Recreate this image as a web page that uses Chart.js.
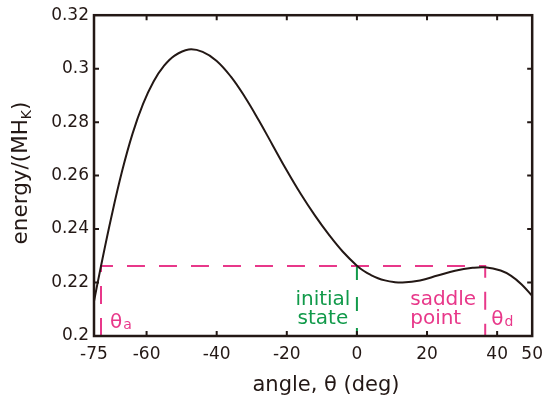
<!DOCTYPE html>
<html>
<head>
<meta charset="utf-8">
<script src="https://cdn.jsdelivr.net/npm/chart.js@4/dist/chart.umd.min.js"></script>
<style>
  html, body { margin: 0; padding: 0; background: #fff; }
  #wrap { width: 551px; height: 401px; position: relative; }
</style>
</head>
<body>
<div id="wrap"><canvas id="energyChart"></canvas></div>
<script>
// data
const angles = [-75, -73, -70, -67, -64, -61, -58, -55, -52, -48, -44, -40, -36, -32, -28, -24, -20, -16, -12, -8, -4, 0, 2, 4, 6, 8, 10.5, 13, 18, 23, 28, 33, 36.5, 41, 44, 47, 50];
const energies = [0.2130, 0.2262, 0.2448, 0.2616, 0.2757, 0.2868, 0.2952, 0.3011, 0.3049, 0.3072, 0.3063, 0.3029, 0.2971, 0.2895, 0.2807, 0.2713, 0.2619, 0.2531, 0.2451, 0.2379, 0.2315, 0.2263, 0.2243, 0.2228, 0.2216, 0.2208, 0.2202, 0.2200, 0.2208, 0.2226, 0.2244, 0.2255, 0.2257, 0.2245, 0.2225, 0.2193, 0.2150];

const thetaA = -73;       // left crossing
const thetaInit = 0;      // initial state
const thetaD = 36.6;      // saddle point
const barrierLevel = 0.2262;

const xTicks = [-75, -60, -40, -20, 0, 20, 40, 50];
const yMin = 0.2, yMax = 0.32, yStep = 0.02;

const INK = '#231815';
const PINK = '#e8388a';
const GREEN = '#119a4a';
const FONT = '"DejaVu Sans", sans-serif';

// frame, inward ticks, axis titles and annotation texts
const decorPlugin = {
  id: 'decor',
  afterDraw(chart) {
    const ctx = chart.ctx;
    const a = chart.chartArea;
    const xs = chart.scales.x, ys = chart.scales.y;
    ctx.save();
    ctx.strokeStyle = INK;
    ctx.lineWidth = 2;
    // inward ticks
    ctx.beginPath();
    xTicks.forEach(v => {
      if (v === xs.min || v === xs.max) return;
      const px = xs.getPixelForValue(v);
      ctx.moveTo(px, a.bottom); ctx.lineTo(px, a.bottom - 5);
      ctx.moveTo(px, a.top); ctx.lineTo(px, a.top + 5);
    });
    for (let v = yMin + yStep; v < yMax - 1e-9; v += yStep) {
      const py = ys.getPixelForValue(v);
      ctx.moveTo(a.left, py); ctx.lineTo(a.left + 5, py);
      ctx.moveTo(a.right, py); ctx.lineTo(a.right - 5, py);
    }
    ctx.stroke();
    // frame
    ctx.lineWidth = 2.5;
    ctx.strokeRect(a.left, a.top, a.right - a.left, a.bottom - a.top);

    // x title
    ctx.fillStyle = INK;
    ctx.font = '21px ' + FONT;
    ctx.textAlign = 'center';
    ctx.textBaseline = 'alphabetic';
    ctx.fillText('angle, θ (deg)', 326, 391);

    // y title with subscript K
    ctx.save();
    ctx.translate(27, 173);
    ctx.rotate(-Math.PI / 2);
    const main = 'energy/(MH';
    ctx.font = '21.5px ' + FONT;
    const w1 = ctx.measureText(main).width;
    ctx.font = '14px ' + FONT;
    const w2 = ctx.measureText('K').width;
    ctx.font = '21.5px ' + FONT;
    const w3 = ctx.measureText(')').width;
    let x0 = -(w1 + w2 + w3) / 2;
    ctx.textAlign = 'left';
    ctx.fillText(main, x0, 0);
    ctx.font = '14px ' + FONT;
    ctx.fillText('K', x0 + w1, 4);
    ctx.font = '21.5px ' + FONT;
    ctx.fillText(')', x0 + w1 + w2, 0);
    ctx.restore();

    // annotation labels
    ctx.font = '20px ' + FONT;
    ctx.fillStyle = GREEN;
    ctx.textAlign = 'center';
    const initX = xs.getPixelForValue(thetaInit) - 34;
    ctx.fillText('initial', initX, 305);
    ctx.fillText('state', initX, 324);

    ctx.fillStyle = PINK;
    ctx.textAlign = 'left';
    const sadX = xs.getPixelForValue(thetaD) - 75;
    ctx.fillText('saddle', sadX, 305);
    ctx.fillText('point', sadX, 324);

    // theta_a and theta_d
    const sub = (label, s, x, y) => {
      ctx.font = '20px ' + FONT;
      ctx.fillText(label, x, y);
      const w = ctx.measureText(label).width;
      ctx.font = '14px ' + FONT;
      ctx.fillText(s, x + w + 1, y + 1);
    };
    sub('θ', 'a', xs.getPixelForValue(thetaA) + 9, 328);
    sub('θ', 'd', xs.getPixelForValue(thetaD) + 6, 325);
    ctx.restore();
  }
};

new Chart(document.getElementById('energyChart'), {
  type: 'scatter',
  data: {
    datasets: [
      {
        label: 'energy',
        data: angles.map((a, i) => ({ x: a, y: energies[i] })),
        showLine: true,
        borderColor: INK,
        borderWidth: 2,
        pointRadius: 0,
        tension: 0.4,
        order: 0
      },
      {
        label: 'barrier',
        data: [
          { x: thetaA, y: yMin }, { x: thetaA, y: barrierLevel },
          { x: thetaD, y: barrierLevel }, { x: thetaD, y: yMin }
        ],
        showLine: true,
        borderColor: PINK,
        borderWidth: 2,
        borderDash: [18, 14],
        pointRadius: 0,
        tension: 0,
        order: 1
      },
      {
        label: 'initial',
        data: [{ x: thetaInit, y: barrierLevel }, { x: thetaInit, y: yMin }],
        showLine: true,
        borderColor: GREEN,
        borderWidth: 2,
        borderDash: [14, 17],
        pointRadius: 0,
        tension: 0,
        order: 1
      }
    ]
  },
  options: {
    responsive: true,
    maintainAspectRatio: false,
    animation: false,
    layout: { padding: { top: 14, right: 15.5, left: 0, bottom: 0 } },
    plugins: { legend: { display: false }, tooltip: { enabled: false } },
    scales: {
      x: {
        type: 'linear',
        min: -75, max: 50,
        afterBuildTicks: scale => { scale.ticks = xTicks.map(v => ({ value: v })); },
        afterFit: scale => { scale.height = 65; },
        grid: { display: false, drawTicks: false },
        border: { display: false },
        ticks: {
          color: INK,
          font: { family: FONT, size: 17 },
          padding: 8,
          maxRotation: 0,
          autoSkip: false,
          callback: v => String(v)
        }
      },
      y: {
        min: yMin, max: yMax,
        afterFit: scale => { scale.width = 94; },
        grid: { display: false, drawTicks: false },
        border: { display: false },
        ticks: {
          stepSize: yStep,
          color: INK,
          font: { family: FONT, size: 17 },
          padding: 5,
          callback: v => String(+v.toFixed(2))
        }
      }
    }
  },
  plugins: [decorPlugin]
});
</script>
</body>
</html>
